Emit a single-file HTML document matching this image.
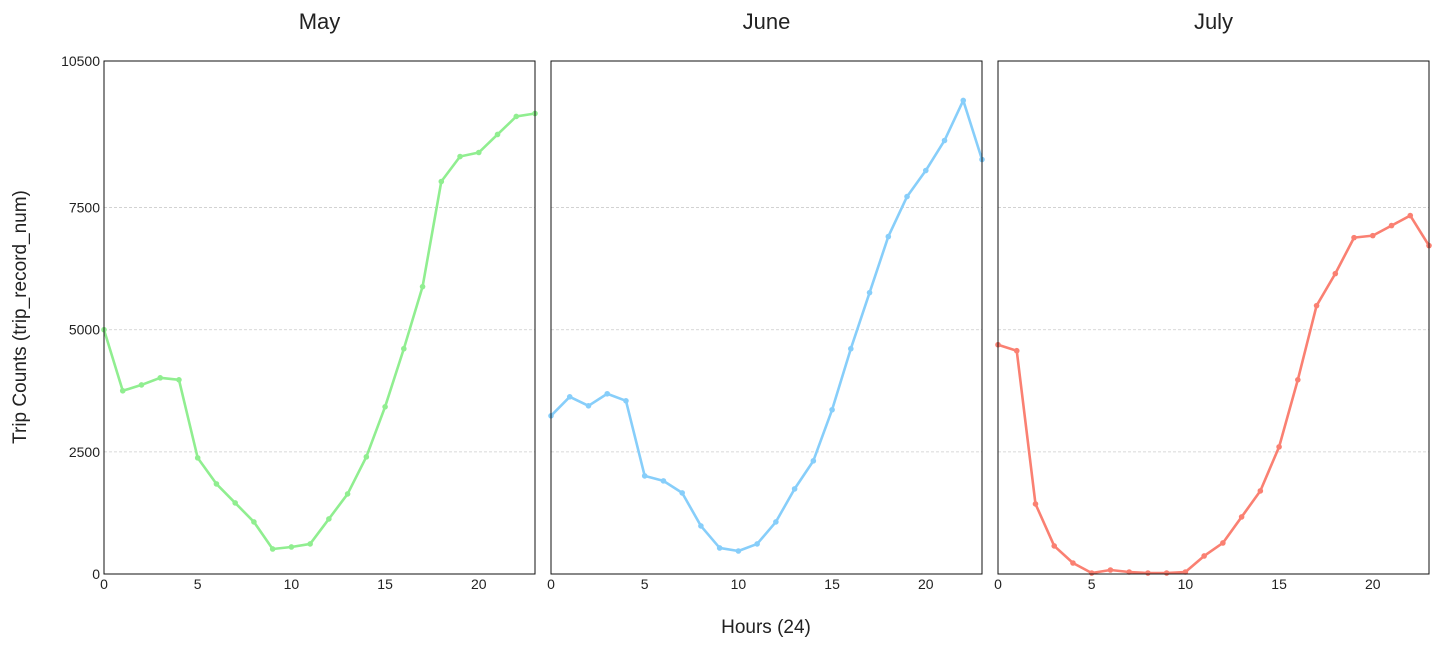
<!DOCTYPE html>
<html><head><meta charset="utf-8"><style>
body{margin:0;background:#fff;}
svg{display:block;font-family:"Liberation Sans",Arial,sans-serif;}
</style></head><body>
<svg id="chart" width="1440" height="648"></svg>
<script>
const hours=[0,1,2,3,4,5,6,7,8,9,10,11,12,13,14,15,16,17,18,19,20,21,22,23];
const months=["May","June","July"];
const mayValues=[5000,3750,3870,4015,3975,2377,1844,1455,1066,512,553,615,1127,1639,2398,3422,4611,5881,8033,8545,8627,8996,9365,9426];
const juneValues=[3238,3627,3443,3689,3545,2008,1906,1660,984,533,471,615,1066,1742,2316,3361,4611,5758,6906,7725,8258,8873,9693,8484];
const julyValues=[4693,4570,1434,574,225,20,82,41,20,20,41,369,635,1168,1701,2602,3975,5492,6148,6885,6926,7131,7336,6721];
const yTicks=[0,2500,5000,7500,10500];
const xTicks=[0,5,10,15,20];

const NS="http://www.w3.org/2000/svg";
const svgEl=document.getElementById('chart');
function mk(tag,attrs,parent){const e=document.createElementNS(NS,tag);for(const k in attrs)e.setAttribute(k,attrs[k]);(parent||svgEl).appendChild(e);return e;}
const seriesList=[mayValues,juneValues,julyValues];
const colorList=["#90EE90","#87CEFA","#FA8072"];
const panelLefts=[104,551,998], panelW=431, plotTop=61, plotBottom=574;
function yScale(v){return plotBottom-(v/10500)*(plotBottom-plotTop);}
seriesList.forEach((vals,p)=>{
  const L=panelLefts[p];
  const xScale=h=>L+(h/23)*panelW;
  const g=mk('g',{});
  
  
  yTicks.forEach(t=>{
    if(t>0&&t<10500){
      const gl=mk('line',{x1:L,x2:L+panelW,y1:yScale(t),y2:yScale(t),stroke:'#ccc','stroke-width':0.8,'stroke-dasharray':'3,2'},g);
      
      
    }
    if(p===0){
      const tl=mk('text',{x:L-4,y:yScale(t)+5,'text-anchor':'end','font-size':14,fill:'#222'},g);
      tl.textContent=t;
      
      
    }
  });
  xTicks.forEach(t=>{
    const tl=mk('text',{x:xScale(t),y:plotBottom+15,'text-anchor':'middle','font-size':14,fill:'#222'},g);
    tl.textContent=t;
    
    
  });
  const pts=vals.map((v,i)=>xScale(hours[i])+','+yScale(v)).join(' ');
  const line=mk('polyline',{points:pts,fill:'none',stroke:colorList[p],'stroke-width':2.6,'stroke-linejoin':'round'},g);
  
  
  vals.forEach((v,i)=>{
    const c=mk('circle',{cx:xScale(hours[i]),cy:yScale(v),r:2.8,fill:colorList[p]},g);
    
    
  });
  const fr=mk('rect',{x:L,y:plotTop,width:panelW,height:plotBottom-plotTop,fill:'none',stroke:'#111','stroke-width':1},g);
  
  
  const tt=mk('text',{x:L+panelW/2,y:29,'text-anchor':'middle','font-size':22,fill:'#222'},g);
  tt.textContent=months[p];
  
  
});
const yt=mk('text',{x:0,y:0,transform:'translate(26,317) rotate(-90)','text-anchor':'middle','font-size':19,fill:'#222'});
yt.textContent='Trip Counts (trip_record_num)';


const xt=mk('text',{x:766,y:633,'text-anchor':'middle','font-size':19,fill:'#222'});
xt.textContent='Hours (24)';


</script>
</body></html>
